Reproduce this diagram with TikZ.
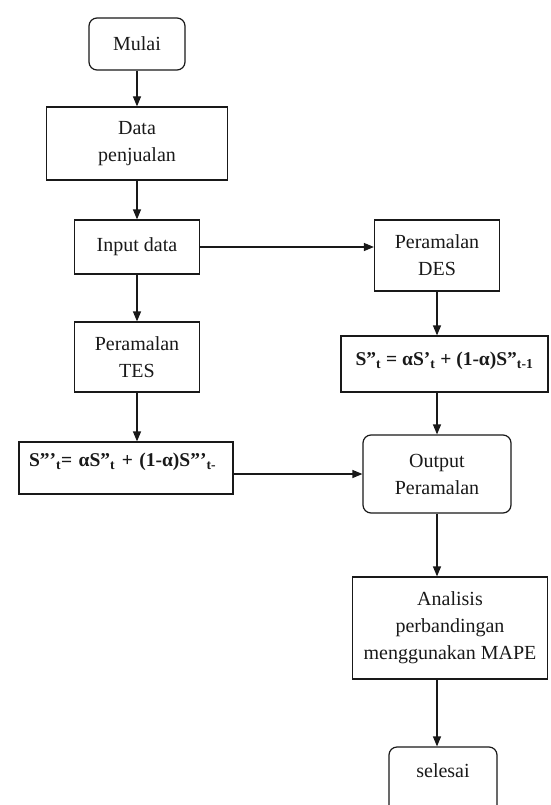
\documentclass[tikz,border=0pt]{standalone}
\usepackage{fontspec}
\setmainfont{Liberation Serif}
\usetikzlibrary{positioning,arrows.meta}
\tikzset{
>={Triangle[length=10pt,width=8pt]}, % filled arrow heads
node distance=100pt, % default distance, most nodes give their own
every node/.style={font=\fontsize{20}{27}\selectfont,align=center},
on grid
}

\begin{document}
\begin{tikzpicture}[color=black!90, line width=1.2pt,
  proses/.style={rectangle, draw, inner sep=3pt},
  terminal/.style={proses, rounded corners=8pt},
  rumus/.style={proses, font=\fontsize{19.5}{22}\selectfont\bfseries, text height=21pt, text depth=25pt}]
   \useasboundingbox (0,0) rectangle (550pt,-805pt);
   \clip (0,0) rectangle (550pt,-805pt);
   % left column
   \node[terminal, minimum width=96pt, minimum height=52pt] (mulai) at (137pt,-44pt) {Mulai};
   \node[proses, minimum width=181pt, minimum height=73pt] (data) [below=99.5pt of mulai] {Data\\penjualan};
   \node[proses, minimum width=125pt, minimum height=54pt] (input) [below=103.5pt of data] {Input data};
   \node[proses, minimum width=125pt, minimum height=70pt] (tes) [below=110pt of input] {Peramalan\\TES};
   \node[rumus, text width=194pt, inner xsep=10pt, align=left] (stes) [below left=111pt and 11pt of tes] {S”’\textsubscript{t}= αS”\textsubscript{t} + (1-α)S”’\textsubscript{t-}};
   % right column
   \node[proses, minimum width=125pt, minimum height=71pt] (des) [below right=8.5pt and 300pt of input] {Peramalan\\DES};
   \node[rumus, minimum width=207pt, text height=26pt, text depth=24pt] (sdes) [below right=108.5pt and 7.5pt of des] {S”\textsubscript{t} = αS’\textsubscript{t} + (1-α)S”\textsubscript{t-1}};
   \node[terminal, minimum width=148pt, minimum height=78pt] (output) [below=218.5pt of des] {Output\\Peramalan};
   \node[proses, minimum width=195pt, minimum height=102pt] (analisis) [below right=154pt and 13pt of output] {Analisis\\perbandingan\\menggunakan MAPE};
   \node[terminal, minimum width=108pt, text height=27pt, text depth=40pt] (selesai) [below right=309.5pt and 6pt of output] {selesai};
   \draw[->] (mulai) -- (data);
   \draw[->] (data) -- (input);
   \draw[->] (input) -- (tes);
   \draw[->] (tes) -- (tes |- stes.north);
   \draw[->] (input.east) -- (input.east -| des.west);
   \draw[->] (des) -- (des |- sdes.north);
   \draw[->] (sdes.south -| output) -- (output);
   \draw[->] (stes.east |- output) -- (output.west);
   \draw[->] (output) -- (output |- analisis.north);
   \draw[->] (analisis.south -| output) -- (output |- selesai.north);
\end{tikzpicture}
\end{document}
